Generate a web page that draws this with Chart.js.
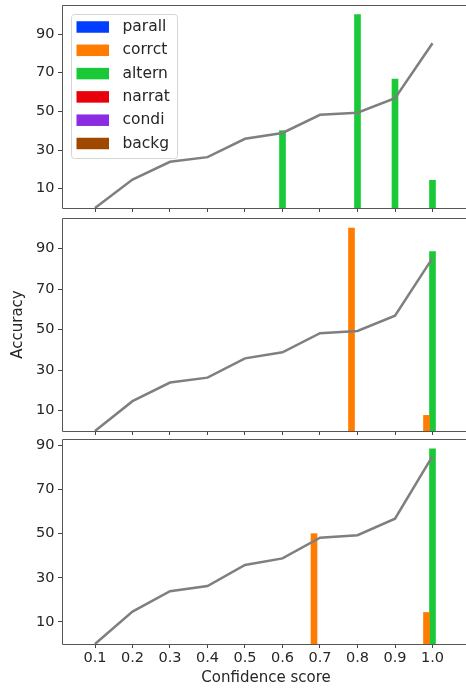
<!DOCTYPE html>
<html>
<head>
<meta charset="utf-8">
<script src="https://cdn.jsdelivr.net/npm/chart.js@4/dist/chart.umd.min.js"></script>
<style>
  html, body { margin: 0; padding: 0; background: #fff; }
  #wrap { width: 466px; height: 688px; position: relative; overflow: hidden; }
  canvas { position: absolute; left: 0; }
</style>
</head>
<body>
<div id="wrap">
<canvas id="panel-top" width="470" height="215" style="top:0px"></canvas>
<canvas id="panel-mid" width="470" height="224" style="top:213px"></canvas>
<canvas id="panel-bot" width="470" height="254" style="top:434px"></canvas>
</div>
<script>
/* ── Data ────────────────────────────────────────────── */
const confidence = [0.1, 0.2, 0.3, 0.4, 0.5, 0.6, 0.7, 0.8, 0.9, 1.0];
const accuracy = [0, 14.7, 23.9, 26.3, 35.8, 38.8, 48.2, 49.3, 56.8, 85.2];

const categories = ['parall', 'corrct', 'altern', 'narrat', 'condi', 'backg'];

// top panel
const topAlternX = [0.6, 0.8, 0.9, 1.0];
const topAlternY = [40, 100, 66.7, 14.3];
// middle panel
const midCorrctX = [0.8, 1.0];
const midCorrctY = [100, 7.7];
const midAlternX = [1.0];
const midAlternY = [88.5];
// bottom panel
const botCorrctX = [0.7, 1.0];
const botCorrctY = [50, 14.3];
const botAlternX = [1.0];
const botAlternY = [88.5];

const yTicks = [10, 30, 50, 70, 90];
const xTicks = [0.1, 0.2, 0.3, 0.4, 0.5, 0.6, 0.7, 0.8, 0.9, 1.0];

/* ── Style ───────────────────────────────────────────── */
const palette = ['#023eff', '#ff7c00', '#1ac938', '#e8000b', '#8b2be2', '#9f4800'];
const textColor = '#262626';
const spineColor = '#555';
Chart.defaults.font.family = '"DejaVu Sans", sans-serif';
Chart.defaults.color = textColor;

const pts = (xs, ys) => xs.map((x, i) => ({ x, y: ys[i] }));

/* ── Plugins ─────────────────────────────────────────── */
// spines: left, top and bottom (the right one falls outside the picture)
const framePlugin = {
  id: 'frame',
  afterDatasetsDraw(chart) {
    const { left, top, right, bottom } = chart.chartArea;
    const ctx = chart.ctx;
    ctx.save();
    ctx.strokeStyle = spineColor;
    ctx.lineWidth = 1;
    ctx.beginPath();
    ctx.moveTo(right, top + 0.5);
    ctx.lineTo(left + 0.5, top + 0.5);
    ctx.lineTo(left + 0.5, bottom + 0.5);
    ctx.lineTo(right, bottom + 0.5);
    ctx.stroke();
    ctx.restore();
  }
};

const boxLegend = {
  id: 'boxLegend',
  afterDraw(chart, args, opts) {
    if (!opts.show) return;
    const ctx = chart.ctx;
    const x = chart.chartArea.left + 9.5, y = chart.chartArea.top + 9.5;
    const w = 106, h = 144, r = 3;
    ctx.save();
    ctx.beginPath();
    ctx.moveTo(x + r, y);
    ctx.arcTo(x + w, y, x + w, y + h, r);
    ctx.arcTo(x + w, y + h, x, y + h, r);
    ctx.arcTo(x, y + h, x, y, r);
    ctx.arcTo(x, y, x + w, y, r);
    ctx.closePath();
    ctx.fillStyle = 'rgba(255,255,255,0.85)';
    ctx.fill();
    ctx.strokeStyle = '#d6d6d6';
    ctx.stroke();
    ctx.font = '15.5px "DejaVu Sans"';
    ctx.textBaseline = 'middle';
    chart.data.datasets.filter(d => d.type === 'bar').forEach((d, i) => {
      const cy = y + 12.5 + i * 23.3;
      ctx.fillStyle = d.backgroundColor;
      ctx.fillRect(x + 5, cy - 5.75, 32.5, 11.5);
      ctx.fillStyle = textColor;
      ctx.fillText(d.label, x + 51, cy);
    });
    ctx.restore();
  }
};

/* ── Panels ──────────────────────────────────────────── */
function makePanel(id, bars, opts) {
  const datasets = [{
    type: 'line',
    data: pts(confidence, accuracy),
    borderColor: '#7f7f7f',
    borderWidth: 2.5,
    pointRadius: 0,
    tension: 0,
    order: 0
  }];
  categories.forEach((cat, i) => {
    const b = bars[cat] || [[], []];
    datasets.push({
      type: 'bar',
      label: cat,
      data: pts(b[0], b[1]),
      backgroundColor: palette[i],
      borderWidth: 0,
      barThickness: 6,
      // backg never has bars; leaving it out of the group keeps altern centred
      grouped: cat !== 'backg',
      order: 1
    });
  });

  const allY = Object.values(bars).flatMap(b => b[1]);
  const yMax = Math.max(...allY) * 1.05;

  return new Chart(document.getElementById(id), {
    type: 'bar',
    data: { datasets },
    options: {
      responsive: false,
      animation: false,
      layout: { padding: { top: 5, left: 0, right: 0, bottom: 0 } },
      plugins: {
        legend: { display: false },
        tooltip: { enabled: false },
        boxLegend: { show: !!opts.legend }
      },
      scales: {
        x: {
          type: 'linear',
          min: 0.012,
          max: 1.1,
          offset: false,
          grid: { offset: false, drawOnChartArea: false, drawTicks: true, tickLength: 4, color: '#444' },
          border: { display: false },
          afterBuildTicks: s => { s.ticks = xTicks.map(v => ({ value: v })); },
          afterFit: s => { s.height = opts.xHeight; s.paddingLeft = 0; s.paddingRight = 0; },
          ticks: {
            display: !!opts.xLabels,
            padding: 2,
            font: { size: 14.5 },
            color: textColor,
            callback: v => v.toFixed(1)
          },
          title: {
            display: !!opts.xLabels,
            text: 'Confidence score',
            font: { size: 15 },
            color: textColor,
            padding: { top: 0, bottom: 0.5 }
          }
        },
        y: {
          min: 0,
          max: yMax,
          grid: { drawOnChartArea: false, drawTicks: true, tickLength: 4, color: '#444' },
          border: { display: false },
          afterBuildTicks: s => { s.ticks = yTicks.map(v => ({ value: v })); },
          afterFit: s => { s.width = 62; s.paddingTop = 0; s.paddingBottom = 0; },
          ticks: { padding: 3.5, font: { size: 14.5 }, color: textColor },
          title: {
            display: !!opts.yTitle,
            text: 'Accuracy',
            font: { size: 15 },
            color: textColor,
            padding: { top: 9.6, bottom: 0 }
          }
        }
      }
    },
    plugins: [framePlugin, boxLegend]
  });
}

makePanel('panel-top', { altern: [topAlternX, topAlternY] }, { legend: true, xHeight: 7 });
makePanel('panel-mid', { corrct: [midCorrctX, midCorrctY], altern: [midAlternX, midAlternY] }, { yTitle: true, xHeight: 6 });
makePanel('panel-bot', { corrct: [botCorrctX, botCorrctY], altern: [botAlternX, botAlternY] }, { xLabels: true, xHeight: 44 });
</script>
</body>
</html>
